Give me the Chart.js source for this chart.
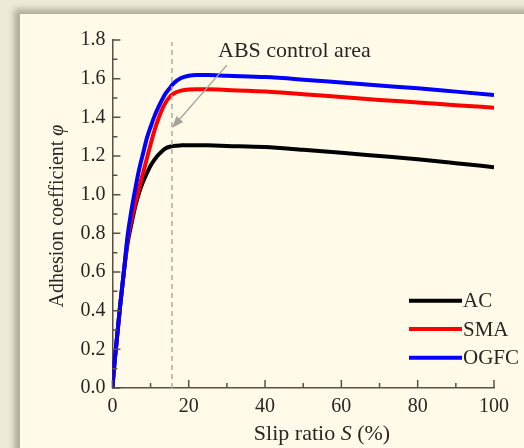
<!DOCTYPE html>
<html><head><meta charset="utf-8">
<script src="https://cdn.jsdelivr.net/npm/chart.js@4.4.1/dist/chart.umd.min.js"></script>
<style>
html,body{margin:0;padding:0;width:524px;height:448px;overflow:hidden;background:#edebd7;}
#frame{position:absolute;left:20px;top:14px;width:560px;height:500px;background:#fffbe8;box-shadow:-5px -4px 6px 1px #afaf98;}
#wrap{position:absolute;left:0;top:0;width:524px;height:448px;}
</style></head>
<body><div id="frame"></div><div id="wrap"><canvas id="c" width="524" height="448"></canvas></div>
<script>
const slip   = [0, 0.5, 1, 2, 3, 4, 5, 6, 7, 8, 9, 10, 11, 12, 13, 14, 15, 16, 18, 20, 22, 25, 30, 40, 50, 60, 70, 80, 90, 100];
const acVals = [0, 0.12, 0.22, 0.42, 0.6, 0.75, 0.85, 0.94, 1.01, 1.065, 1.11, 1.15, 1.18, 1.205, 1.225, 1.24, 1.248, 1.252, 1.255, 1.256, 1.256, 1.255, 1.252, 1.246, 1.232, 1.217, 1.2, 1.183, 1.163, 1.142];
const smaVals = [0, 0.12, 0.22, 0.42, 0.6, 0.77, 0.87, 0.955, 1.035, 1.11, 1.185, 1.26, 1.33, 1.39, 1.44, 1.478, 1.505, 1.522, 1.538, 1.544, 1.545, 1.545, 1.542, 1.533, 1.52, 1.505, 1.49, 1.477, 1.463, 1.45];
const ogfcVals = [0, 0.12, 0.22, 0.42, 0.6, 0.79, 0.92, 1.03, 1.13, 1.21, 1.29, 1.35, 1.405, 1.45, 1.49, 1.525, 1.55, 1.575, 1.603, 1.615, 1.619, 1.619, 1.615, 1.608, 1.595, 1.58, 1.565, 1.55, 1.533, 1.516];
const seriesNames = ['AC', 'SMA', 'OGFC'];
const seriesColors = ['#000000', '#ff0000', '#0000ff'];
const xTicks = [0, 20, 40, 60, 80, 100];
const yTicks = [0, 0.2, 0.4, 0.6, 0.8, 1.0, 1.2, 1.4, 1.6, 1.8];
const absSlip = 15.6;
const annotationText = 'ABS control area';
const arrowFrom = [30, 1.67];
const arrowTo = [15.6, 1.345];

const FONT = "'Liberation Serif','Times New Roman',serif";
const TXT = '#2a2622';
const AXIS = '#5a5046';

function mk(vals){ return slip.map((x,i)=>({x:x, y:vals[i]})); }
const allVals = [acVals, smaVals, ogfcVals];

const extras = {
  id:'extras',
  afterDraw(chart){
    const {ctx, chartArea:a, scales:{x, y}} = chart;
    ctx.save();
    // inward ticks
    ctx.strokeStyle = AXIS; ctx.lineWidth = 1.5;
    ctx.beginPath();
    for (let i=0;i<yTicks.length;i++){
      const py = y.getPixelForValue(yTicks[i]);
      ctx.moveTo(a.left, py); ctx.lineTo(a.left+8, py);
      if (i<yTicks.length-1){
        const pm = y.getPixelForValue((yTicks[i]+yTicks[i+1])/2);
        ctx.moveTo(a.left, pm); ctx.lineTo(a.left+5, pm);
      }
    }
    for (let i=0;i<xTicks.length;i++){
      const px = x.getPixelForValue(xTicks[i]);
      ctx.moveTo(px, a.bottom); ctx.lineTo(px, a.bottom-8);
      if (i<xTicks.length-1){
        const pm = x.getPixelForValue((xTicks[i]+xTicks[i+1])/2);
        ctx.moveTo(pm, a.bottom); ctx.lineTo(pm, a.bottom-5);
      }
    }
    ctx.stroke();
    // dashed ABS line
    ctx.strokeStyle = '#b8a89e'; ctx.lineWidth = 1.5; ctx.setLineDash([5,4]);
    const dx = x.getPixelForValue(absSlip);
    ctx.beginPath(); ctx.moveTo(dx, a.bottom); ctx.lineTo(dx, y.getPixelForValue(1.79)); ctx.stroke();
    ctx.setLineDash([]);
    // arrow
    const x1 = x.getPixelForValue(arrowFrom[0]), y1 = y.getPixelForValue(arrowFrom[1]);
    const x2 = x.getPixelForValue(arrowTo[0]), y2 = y.getPixelForValue(arrowTo[1]);
    const ang = Math.atan2(y2-y1, x2-x1);
    ctx.strokeStyle = '#a8a39b'; ctx.fillStyle = '#a8a39b'; ctx.lineWidth = 1.4;
    ctx.beginPath(); ctx.moveTo(x1,y1); ctx.lineTo(x2-8*Math.cos(ang), y2-8*Math.sin(ang)); ctx.stroke();
    ctx.beginPath();
    ctx.moveTo(x2,y2);
    ctx.lineTo(x2-12*Math.cos(ang)+4.5*Math.sin(ang), y2-12*Math.sin(ang)-4.5*Math.cos(ang));
    ctx.lineTo(x2-12*Math.cos(ang)-4.5*Math.sin(ang), y2-12*Math.sin(ang)+4.5*Math.cos(ang));
    ctx.closePath(); ctx.fill();
    // annotation text
    ctx.fillStyle = TXT; ctx.font = '22px ' + FONT;
    ctx.textAlign = 'left'; ctx.textBaseline = 'alphabetic';
    ctx.fillText(annotationText, 218, 57);
    // legend
    const legY = [300.7, 329, 357.7];
    ctx.textBaseline = 'middle'; ctx.font = '21px ' + FONT;
    for (let i=0;i<3;i++){
      ctx.strokeStyle = seriesColors[i]; ctx.lineWidth = 4;
      ctx.beginPath(); ctx.moveTo(409, legY[i]); ctx.lineTo(462, legY[i]); ctx.stroke();
      ctx.fillStyle = TXT; ctx.fillText(seriesNames[i], 463, legY[i]+1);
    }
    // x title
    const f1 = '22px ' + FONT, f2 = 'italic 22px ' + FONT;
    ctx.font = f1; const w1 = ctx.measureText('Slip ratio ').width, w3 = ctx.measureText(' (%)').width;
    ctx.font = f2; const w2 = ctx.measureText('S').width;
    let sx = 322 - (w1+w2+w3)/2;
    ctx.textBaseline = 'alphabetic';
    ctx.font = f1; ctx.fillText('Slip ratio ', sx, 440);
    ctx.font = f2; ctx.fillText('S', sx+w1, 440);
    ctx.font = f1; ctx.fillText(' (%)', sx+w1+w2, 440);
    // y title
    ctx.translate(63, 216); ctx.rotate(-Math.PI/2);
    const g1 = '20px ' + FONT, g2 = 'italic 20px ' + FONT;
    ctx.font = g1; const v1 = ctx.measureText('Adhesion coefficient ').width;
    ctx.font = g2; const v2 = ctx.measureText('φ').width;
    let sy = -(v1+v2)/2;
    ctx.font = g1; ctx.fillText('Adhesion coefficient ', sy, 0);
    ctx.font = g2; ctx.fillText('φ', sy+v1, 0);
    ctx.restore();
  }
};

new Chart(document.getElementById('c'), {
  type:'line',
  data:{ datasets: seriesNames.map((n,i)=>({
    label:n, data:mk(allVals[i]), borderColor:seriesColors[i], borderWidth:4,
    pointRadius:0, fill:false, cubicInterpolationMode:'monotone', order:2-i
  }))},
  options:{
    responsive:false, animation:false, devicePixelRatio:1,
    layout:{padding:{left:0, top:40, right:30, bottom:0}},
    plugins:{legend:{display:false}, tooltip:{enabled:false}},
    scales:{
      x:{type:'linear', min:0, max:100,
        afterBuildTicks(s){ s.ticks = xTicks.map(v=>({value:v})); },
        ticks:{font:{family:FONT, size:20}, color:TXT, padding:7, maxRotation:0},
        grid:{display:false, drawTicks:false},
        border:{display:true, color:AXIS, width:1.5},
        afterFit(s){ s.height = 60; }
      },
      y:{type:'linear', min:0, max:1.8,
        afterBuildTicks(s){ s.ticks = yTicks.map(v=>({value:v})); },
        ticks:{font:{family:FONT, size:20}, color:TXT, padding:7, callback:v=>Number(v).toFixed(1)},
        grid:{display:false, drawTicks:false},
        border:{display:true, color:AXIS, width:1.5},
        afterFit(s){ s.width = 112.4; }
      }
    }
  },
  plugins:[extras]
});
</script></body></html>
